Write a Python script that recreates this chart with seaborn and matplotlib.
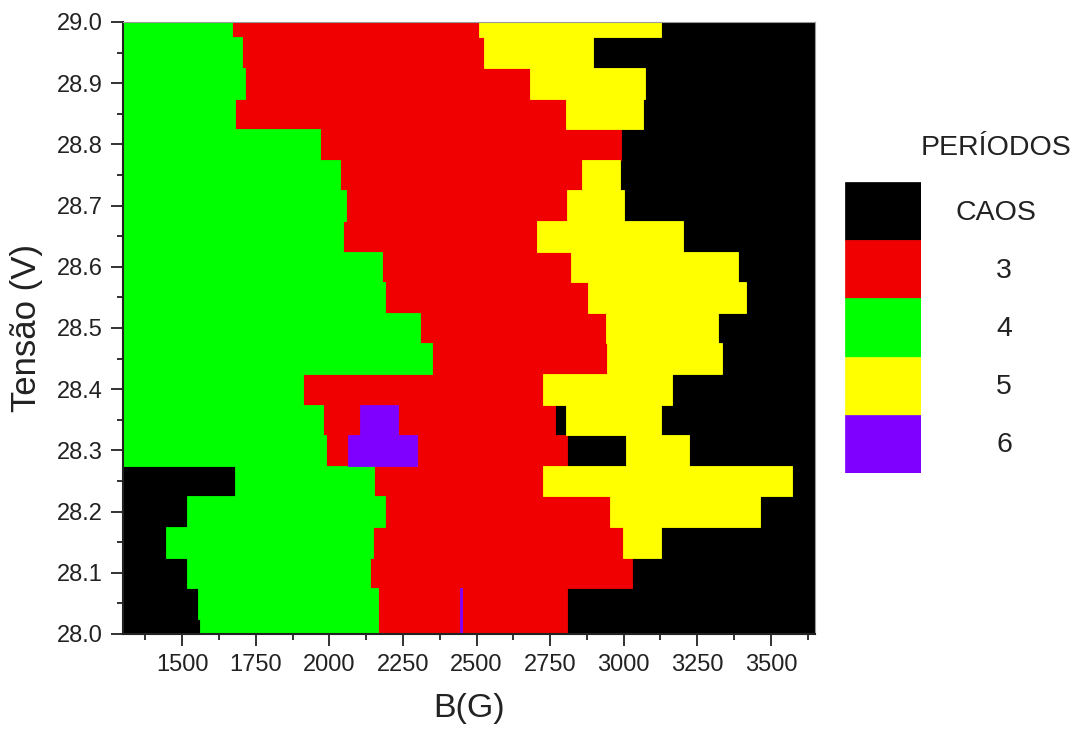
import matplotlib
matplotlib.use("Agg")
import matplotlib.pyplot as plt
from matplotlib.ticker import MultipleLocator, FormatStrFormatter
import numpy as np
import pandas as pd
import seaborn as sns

# ---------------- data ----------------
states = ["CAOS", "3", "4", "5", "6"]
state_colors = ["#000000", "#F00000", "#00FF00", "#FFFF00", "#8000FF"]

b_range = [1300, 3650]            # measured B span (G)
v_step = 0.05                     # voltage step between measured rows (V)

voltages = [29.00, 28.95, 28.90, 28.85, 28.80, 28.75, 28.70, 28.65, 28.60, 28.55,
            28.50, 28.45, 28.40, 28.35, 28.30, 28.25, 28.20, 28.15, 28.10, 28.05, 28.00]

# interior boundaries (G) between regimes along each voltage row
row_edges = [
    [1670, 2509, 3127],
    [1704, 2527, 2897],
    [1712, 2682, 3072],
    [1679, 2803, 3067],
    [1969, 2991],
    [2035, 2858, 2988],
    [2058, 2807, 3002],
    [2048, 2707, 3202],
    [2179, 2821, 3387],
    [2188, 2878, 3415],
    [2309, 2939, 3321],
    [2348, 2942, 3333],
    [1909, 2727, 3163],
    [1979, 2103, 2232, 2767, 2803, 3127],
    [1990, 2063, 2298, 2807, 3007, 3222],
    [1679, 2153, 2727, 3572],
    [1515, 2188, 2954, 3463],
    [1446, 2150, 2999, 3127],
    [1515, 2139, 3027],
    [1554, 2164, 2445, 2452, 2807],
    [1559, 2164, 2445, 2452, 2807],
]

# regime of each segment along each row
row_states = [
    ["4", "3", "5", "CAOS"],
    ["4", "3", "5", "CAOS"],
    ["4", "3", "5", "CAOS"],
    ["4", "3", "5", "CAOS"],
    ["4", "3", "CAOS"],
    ["4", "3", "5", "CAOS"],
    ["4", "3", "5", "CAOS"],
    ["4", "3", "5", "CAOS"],
    ["4", "3", "5", "CAOS"],
    ["4", "3", "5", "CAOS"],
    ["4", "3", "5", "CAOS"],
    ["4", "3", "5", "CAOS"],
    ["4", "3", "5", "CAOS"],
    ["4", "3", "6", "3", "CAOS", "5", "CAOS"],
    ["4", "3", "6", "3", "CAOS", "5", "CAOS"],
    ["CAOS", "4", "3", "5", "CAOS"],
    ["CAOS", "4", "3", "5", "CAOS"],
    ["CAOS", "4", "3", "5", "CAOS"],
    ["CAOS", "4", "3", "CAOS"],
    ["CAOS", "4", "3", "6", "3", "CAOS"],
    ["CAOS", "4", "3", "6", "3", "CAOS"],
]

x_ticks = [1500, 1750, 2000, 2250, 2500, 2750, 3000, 3250, 3500]
y_ticks = [28.0, 28.1, 28.2, 28.3, 28.4, 28.5, 28.6, 28.7, 28.8, 28.9, 29.0]

# ---------------- build segment table ----------------
records = []
v_lo, v_hi = min(voltages), max(voltages)
for v, edges, sts in zip(voltages, row_edges, row_states):
    bounds = [b_range[0]] + edges + [b_range[1]]
    y0 = max(v - v_step / 2, v_lo)
    y1 = min(v + v_step / 2, v_hi)
    for s, b0, b1 in zip(sts, bounds[:-1], bounds[1:]):
        records.append(dict(V=v, y0=y0, h=y1 - y0, B0=b0, W=b1 - b0, state=s))
seg = pd.DataFrame(records)
palette = dict(zip(states, state_colors))

# ---------------- plot ----------------
sns.set_theme(style="ticks")
plt.rcParams["font.family"] = ["Liberation Sans", "DejaVu Sans"]

fig = plt.figure(figsize=(10.8, 7.33), dpi=100)
ax = fig.add_axes([123.3 / 1080, 1 - 634 / 733, (815 - 123.3) / 1080, (634 - 22) / 733])

for s in states:
    d = seg[seg["state"] == s]
    ax.barh(d["y0"], d["W"], left=d["B0"], height=d["h"], align="edge",
            color=palette[s], edgecolor=palette[s], linewidth=0.6)

ax.set_xlim(*b_range)
ax.set_ylim(v_lo, v_hi)
ax.set_xticks(x_ticks)
ax.set_yticks(y_ticks)
ax.xaxis.set_minor_locator(MultipleLocator(125))
ax.yaxis.set_minor_locator(MultipleLocator(0.05))
ax.yaxis.set_major_formatter(FormatStrFormatter("%.1f"))

ax.tick_params(which="major", direction="out", length=8.5, width=1.3,
               labelsize=17, pad=6, color="#222222", labelcolor="#222222",
               top=False, right=False)
ax.tick_params(which="minor", direction="out", length=4.5, width=1.3,
               color="#222222", top=False, right=False)

for side in ["left", "bottom"]:
    ax.spines[side].set_color("#222222")
    ax.spines[side].set_linewidth(1.5)
for side in ["top", "right"]:
    ax.spines[side].set_color("#9a9a9a")
    ax.spines[side].set_linewidth(0.8)

ax.set_xlabel("B(G)", fontsize=24.5, labelpad=12, color="#222222")
ax.set_ylabel("Tensão (V)", fontsize=25, labelpad=10, color="#222222")

# ---------------- legend (stacked colour blocks) ----------------
lax = fig.add_axes([845 / 1080, 1 - 472.7 / 733, 75.7 / 1080, 290.4 / 733])
n = len(states)
lax.barh(np.arange(n), [1] * n, left=0, height=1.0, color=state_colors,
         edgecolor=state_colors, linewidth=0.5)
lax.set_xlim(0, 1)
lax.set_ylim(n - 0.5, -0.5)
lax.axis("off")
for i, s in enumerate(states):
    xoff = 996 if s == "CAOS" else 1004
    fig.text(xoff / 1080, 1 - (211.5 + 58.1 * i + 1.5) / 733, s,
             ha="center", va="center", fontsize=20.5, color="#222222")
fig.text(996 / 1080, 1 - 148 / 733, "PERÍODOS", ha="center", va="center",
         fontsize=20.5, color="#222222")

fig.savefig("out.png", dpi=100)
